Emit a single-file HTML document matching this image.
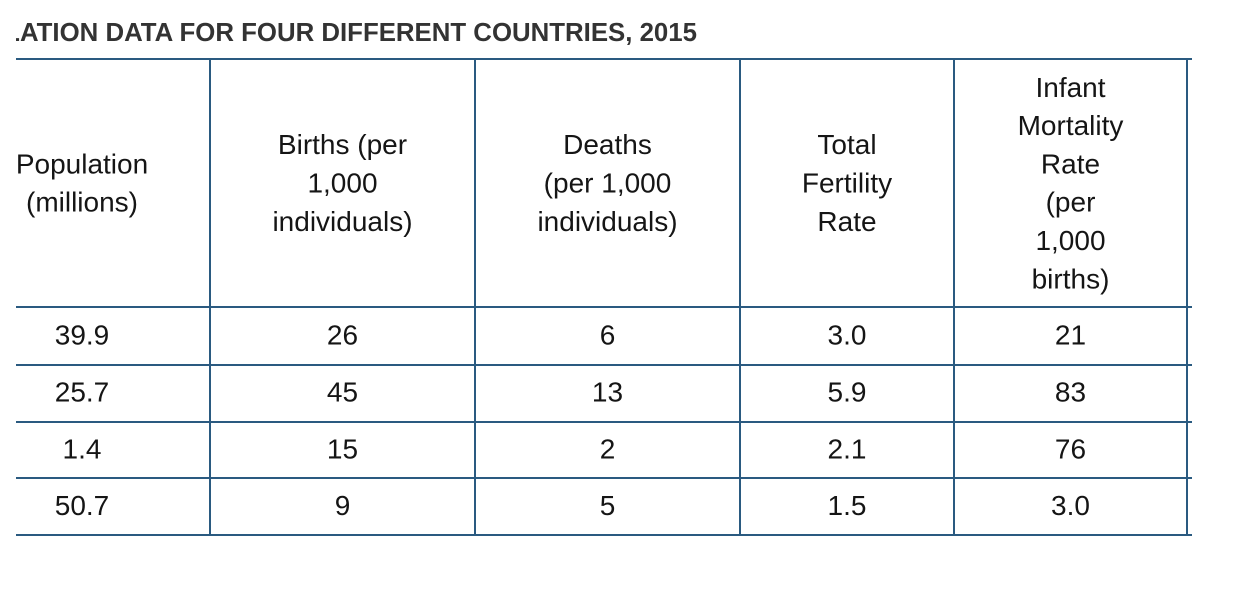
<!DOCTYPE html>
<html>
<head>
<meta charset="utf-8">
<style>
  html,body{margin:0;padding:0;background:#ffffff;}
  svg{display:block;}
  .t{font-family:"Liberation Sans",Arial,sans-serif;font-size:28px;fill:#151515;text-anchor:middle;}
  .title{font-family:"Liberation Sans",Arial,sans-serif;font-size:25.5px;font-weight:bold;fill:#333333;}
</style>
</head>
<body>
<svg width="1244" height="594" viewBox="0 0 1244 594" xmlns="http://www.w3.org/2000/svg">
  <defs>
    <clipPath id="tc"><rect x="16" y="0" width="1228" height="60"/></clipPath>
  </defs>
  <rect x="0" y="0" width="1244" height="594" fill="#ffffff"/>
  <g clip-path="url(#tc)">
    <text class="title" x="4.2" y="41" textLength="692.8" lengthAdjust="spacingAndGlyphs">LATION DATA FOR FOUR DIFFERENT COUNTRIES, 2015</text>
  </g>

  <!-- grid lines -->
  <g stroke="#2a5a80" stroke-width="2" fill="none">
    <line x1="16" y1="59" x2="1192" y2="59"/>
    <line x1="16" y1="307" x2="1192" y2="307"/>
    <line x1="16" y1="365" x2="1192" y2="365"/>
    <line x1="16" y1="422" x2="1192" y2="422"/>
    <line x1="16" y1="478" x2="1192" y2="478"/>
    <line x1="16" y1="535" x2="1192" y2="535"/>
    <line x1="210" y1="58" x2="210" y2="536"/>
    <line x1="475" y1="58" x2="475" y2="536"/>
    <line x1="740" y1="58" x2="740" y2="536"/>
    <line x1="954" y1="58" x2="954" y2="536"/>
    <line x1="1187" y1="58" x2="1187" y2="536"/>
  </g>

  <!-- header -->
  <text class="t" x="82" y="173.4">Population</text>
  <text class="t" x="82" y="211.7">(millions)</text>

  <text class="t" x="342.5" y="154.2">Births (per</text>
  <text class="t" x="342.5" y="192.5">1,000</text>
  <text class="t" x="342.5" y="230.8">individuals)</text>

  <text class="t" x="607.5" y="154.2">Deaths</text>
  <text class="t" x="607.5" y="192.5">(per 1,000</text>
  <text class="t" x="607.5" y="230.8">individuals)</text>

  <text class="t" x="847" y="154.2">Total</text>
  <text class="t" x="847" y="192.5">Fertility</text>
  <text class="t" x="847" y="230.8">Rate</text>

  <text class="t" x="1070.5" y="96.8">Infant</text>
  <text class="t" x="1070.5" y="135.1">Mortality</text>
  <text class="t" x="1070.5" y="173.4">Rate</text>
  <text class="t" x="1070.5" y="211.7">(per</text>
  <text class="t" x="1070.5" y="250">1,000</text>
  <text class="t" x="1070.5" y="288.3">births)</text>

  <!-- rows -->
  <text class="t" x="82" y="344.5">39.9</text>
  <text class="t" x="342.5" y="344.5">26</text>
  <text class="t" x="607.5" y="344.5">6</text>
  <text class="t" x="847" y="344.5">3.0</text>
  <text class="t" x="1070.5" y="344.5">21</text>

  <text class="t" x="82" y="401.5">25.7</text>
  <text class="t" x="342.5" y="401.5">45</text>
  <text class="t" x="607.5" y="401.5">13</text>
  <text class="t" x="847" y="401.5">5.9</text>
  <text class="t" x="1070.5" y="401.5">83</text>

  <text class="t" x="82" y="458.5">1.4</text>
  <text class="t" x="342.5" y="458.5">15</text>
  <text class="t" x="607.5" y="458.5">2</text>
  <text class="t" x="847" y="458.5">2.1</text>
  <text class="t" x="1070.5" y="458.5">76</text>

  <text class="t" x="82" y="515">50.7</text>
  <text class="t" x="342.5" y="515">9</text>
  <text class="t" x="607.5" y="515">5</text>
  <text class="t" x="847" y="515">1.5</text>
  <text class="t" x="1070.5" y="515">3.0</text>
</svg>
</body>
</html>
